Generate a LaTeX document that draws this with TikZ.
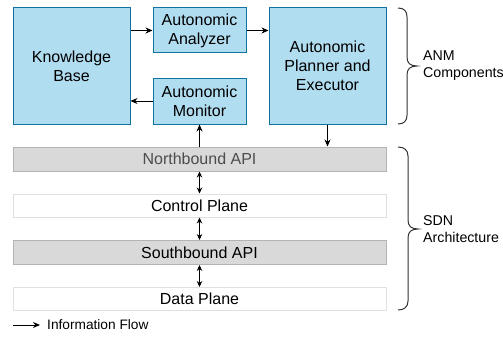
\documentclass[tikz,border=0pt]{standalone}
\usepackage{fontspec}
\setmainfont{Liberation Sans}
\usetikzlibrary{arrows.meta}
\definecolor{anmfill}{HTML}{B1DDF0}
\definecolor{anmdraw}{HTML}{10739E}
\definecolor{apifill}{HTML}{D9D9D9}
\definecolor{apidraw}{HTML}{B3B3B3}
\definecolor{planedraw}{HTML}{E0E0E0}
\definecolor{bracecol}{HTML}{333333}
\tikzset{
  anmbox/.style={draw=anmdraw, fill=anmfill, line width=1pt, inner sep=0pt,
    align=center, font=\fontsize{16}{19}\selectfont},
  apibox/.style={draw=apidraw, fill=apifill, line width=1pt, inner sep=0pt,
    minimum width=373pt, minimum height=24pt, font=\fontsize{16}{19}\selectfont},
  planebox/.style={draw=planedraw, fill=white, line width=1pt, inner sep=0pt,
    minimum width=373pt, minimum height=23pt, font=\fontsize{16}{19}\selectfont},
  flow/.style={line width=0.9pt, -{Stealth[length=7pt,width=6pt]}},
  biflow/.style={line width=0.9pt, {Stealth[length=6pt,width=5.5pt]}-{Stealth[length=6pt,width=5.5pt]}},
  bracket/.style={draw=bracecol, line width=1pt},
  sidelabel/.style={anchor=west, align=left, inner sep=0pt,
    font=\fontsize{14.2}{17}\selectfont}
}
\begin{document}
\begin{tikzpicture}[x=1pt, y=-1pt]
\useasboundingbox (0,0) rectangle (503,345);

% ANM components
\node[anmbox, minimum width=117pt, minimum height=116pt] (kb) at (71.5,66) {Knowledge\\Base};
\node[anmbox, minimum width=93pt, minimum height=45pt] (an) at (199.5,30.5) {Autonomic\\Analyzer};
\node[anmbox, minimum width=93pt, minimum height=46pt] (mon) at (199.5,101) {Autonomic\\Monitor};
\node[anmbox, minimum width=117pt, minimum height=116pt] (pl) at (327.5,66) {Autonomic\\Planner and\\Executor};

% SDN layers
\node[apibox, text=black!70] (nb) at (199.5,159) {Northbound API};
\node[planebox] (cp) at (199.5,205.5) {Control Plane};
\node[apibox] (sb) at (199.5,252.5) {Southbound API};
\node[planebox] (dp) at (199.5,299) {Data Plane};

% information flow
\draw[flow] (kb.east |- an.west) -- (an.west);
\draw[flow] (an.east) -- (pl.west |- an.east);
\draw[flow] (mon.west) -- (kb.east |- mon.west);
\draw[flow] (pl.south) -- (pl.south |- nb.north);
\draw[flow] (nb.north -| mon.south) -- (mon.south);
\draw[biflow] (nb.south) -- (cp.north);
\draw[biflow] (cp.south) -- (sb.north);
\draw[biflow] (sb.south) -- (dp.north);

% grouping brackets
\draw[bracket] (398,8) .. controls (404,8) and (407,11) .. (407,17) -- (407,57)
  .. controls (407,63) and (410,66) .. (417,66)
  .. controls (410,66) and (407,69) .. (407,75) -- (407,115)
  .. controls (407,121) and (404,124) .. (398,124);
\node[sidelabel] (anm) at (423,66) {ANM\\Components};

\draw[bracket] (398,147) .. controls (404,147) and (408,150) .. (408,156) -- (408,220)
  .. controls (408,226) and (411,229) .. (418,229)
  .. controls (411,229) and (408,232) .. (408,238) -- (408,301)
  .. controls (408,307) and (404,310) .. (398,310);
\node[sidelabel] (sdn) at (423,229) {SDN\\Architecture};

% legend
\coordinate (lga) at (13,325);
\coordinate (lgb) at (40,325);
\draw[flow] (lga) -- (lgb);
\node[sidelabel, font=\fontsize{13.7}{16}\selectfont] (lgt) at (47,325) {Information Flow};
\end{tikzpicture}
\end{document}
